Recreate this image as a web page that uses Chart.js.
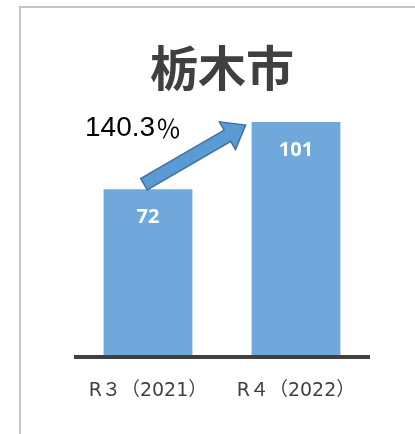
<!DOCTYPE html>
<html>
<head>
<meta charset="utf-8">
<script src="https://cdn.jsdelivr.net/npm/chart.js@4"></script>
<style>html,body{margin:0;background:#fff}</style>
</head>
<body>
<canvas id="c" width="415" height="434"></canvas>
<script>
const cityName = '栃木市';
const years = ['R３（2021）', 'R４（2022）'];
const counts = [72, 101];

const ratio = (counts[1] / counts[0] * 100).toFixed(1);

function drawArrow(ctx, x0, y0, x1, y1) {
  const dx = x1 - x0, dy = y1 - y0;
  const len = Math.hypot(dx, dy);
  const ux = dx / len, uy = dy / len;
  const nx = -uy, ny = ux;
  const bw = 6.5, hw = 16, hl = 21;
  const bx = x1 - ux * hl, by = y1 - uy * hl;
  ctx.beginPath();
  ctx.moveTo(x0 + nx * bw, y0 + ny * bw);
  ctx.lineTo(bx + nx * bw, by + ny * bw);
  ctx.lineTo(bx + nx * hw, by + ny * hw);
  ctx.lineTo(x1, y1);
  ctx.lineTo(bx - nx * hw, by - ny * hw);
  ctx.lineTo(bx - nx * bw, by - ny * bw);
  ctx.lineTo(x0 - nx * bw, y0 - ny * bw);
  ctx.closePath();
  ctx.fillStyle = '#5b9bd5';
  ctx.fill();
  ctx.strokeStyle = '#41719c';
  ctx.lineWidth = 1.5;
  ctx.stroke();
}

const extras = {
  id: 'extras',
  beforeDraw(chart) {
    const ctx = chart.ctx;
    ctx.save();
    ctx.strokeStyle = '#c4c4c4';
    ctx.lineWidth = 2;
    ctx.beginPath();
    ctx.moveTo(20, chart.height);
    ctx.lineTo(20, 7);
    ctx.lineTo(chart.width, 7);
    ctx.stroke();
    ctx.restore();
  },
  afterDatasetsDraw(chart) {
    const ctx = chart.ctx;
    const area = chart.chartArea;
    const bars = chart.getDatasetMeta(0).data;
    ctx.save();
    // axis line over the bar bottoms
    ctx.strokeStyle = '#404040';
    ctx.lineWidth = 4;
    ctx.beginPath();
    ctx.moveTo(area.left, area.bottom + 1);
    ctx.lineTo(area.right, area.bottom + 1);
    ctx.stroke();
    // values inside bars
    ctx.fillStyle = '#fff';
    ctx.font = 'bold 20px "Open Sans"';
    ctx.textAlign = 'center';
    ctx.textBaseline = 'middle';
    bars.forEach((b, i) => ctx.fillText(counts[i], b.x, b.y + 28));
    // growth arrow + ratio
    const b0 = bars[0], b1 = bars[1];
    drawArrow(ctx, b0.x - 4, b0.y - 5, b1.x - b1.width / 2 - 6, b1.y + 3);
    ctx.fillStyle = '#000';
    ctx.font = '28px "Liberation Sans"';
    ctx.textAlign = 'left';
    const tx = b0.x - 63, ty = b1.y + 6;
    ctx.fillText(ratio, tx, ty);
    const w = ctx.measureText(ratio).width;
    ctx.font = '25px "Noto Sans CJK JP"';
    ctx.fillText('％', tx + w + 1, ty);
    ctx.restore();
  }
};

new Chart(document.getElementById('c'), {
  type: 'bar',
  data: {
    labels: years,
    datasets: [{
      data: counts,
      backgroundColor: '#70a8dc',
      categoryPercentage: 1,
      barPercentage: 0.6
    }]
  },
  options: {
    responsive: false,
    animation: false,
    layout: { padding: { top: 39, left: 74, right: 45, bottom: 18 } },
    plugins: {
      legend: { display: false },
      tooltip: { enabled: false },
      title: {
        display: true,
        text: cityName,
        color: '#404040',
        font: { family: '"Noto Sans CJK JP"', size: 48, weight: 'bold', lineHeight: 1.2 },
        padding: 0
      }
    },
    scales: {
      x: {
        afterFit(scale) { scale.height = 60; },
        grid: { display: false, drawTicks: false },
        border: { display: false },
        ticks: {
          color: '#404040',
          font: { family: '"DejaVu Sans", "Noto Sans CJK JP"', size: 19 },
          padding: 24,
          maxRotation: 0,
          autoSkip: false
        }
      },
      y: { display: false, min: 0, max: 112 }
    }
  },
  plugins: [extras]
});
</script>
</body>
</html>
